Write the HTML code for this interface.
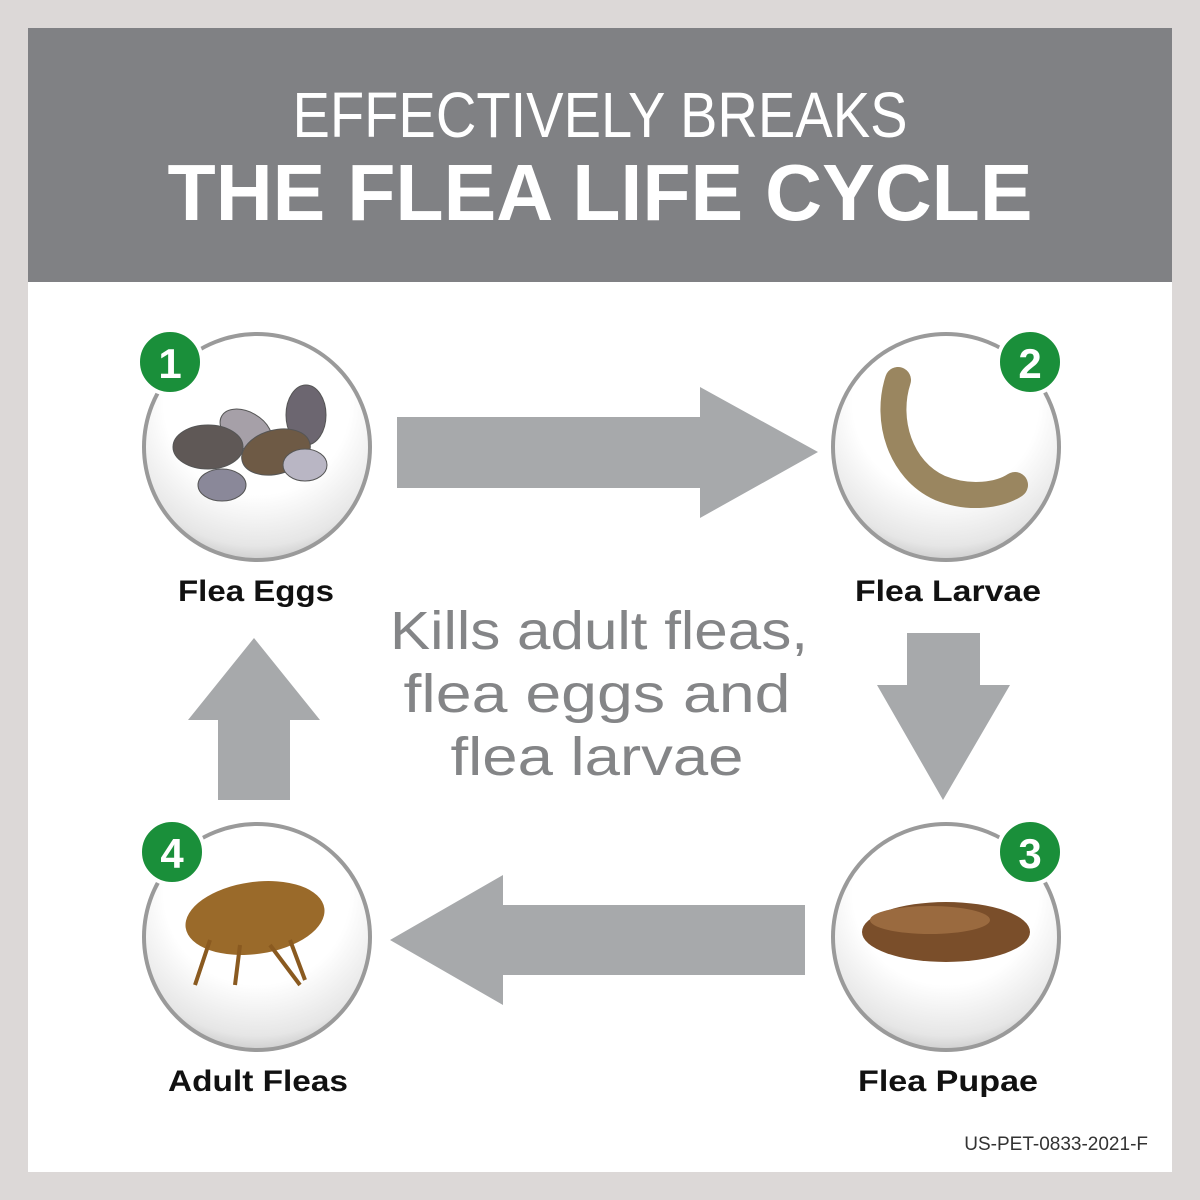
<!DOCTYPE html>
<html><head><meta charset="utf-8"><style>
html,body{margin:0;padding:0;width:1200px;height:1200px;overflow:hidden;background:#dcd8d7}
</style></head><body>
<svg width="1200" height="1200" viewBox="0 0 1200 1200" xmlns="http://www.w3.org/2000/svg" font-family="Liberation Sans, sans-serif">
<defs>
<radialGradient id="cg" cx="50%" cy="30%" r="75%">
<stop offset="0.55" stop-color="#ffffff"/><stop offset="0.85" stop-color="#e6e6e6"/><stop offset="1" stop-color="#bdbdbd"/>
</radialGradient>
</defs>
<rect x="0" y="0" width="1200" height="1200" fill="#dcd8d7"/>
<rect x="28" y="28" width="1144" height="1144" fill="#ffffff"/>
<rect x="28" y="28" width="1144" height="254" fill="#808184"/>
<text x="600" y="137" text-anchor="middle" fill="#fff" font-size="64" textLength="615" lengthAdjust="spacingAndGlyphs">EFFECTIVELY BREAKS</text>
<text x="600" y="220" text-anchor="middle" fill="#fff" font-size="80" font-weight="bold" textLength="865" lengthAdjust="spacingAndGlyphs">THE FLEA LIFE CYCLE</text>

<g fill="#a7a9ab">
<polygon points="397,417 700,417 700,387 818,452 700,518 700,488 397,488"/>
<polygon points="907,633 980,633 980,685 1010,685 943,800 877,685 907,685"/>
<polygon points="805,905 503,905 503,875 390,940 503,1005 503,975 805,975"/>
<polygon points="218,800 290,800 290,720 320,720 254,638 188,720 218,720"/>
</g>

<g stroke="#9a9a9a" stroke-width="4" fill="url(#cg)">
<circle cx="257" cy="447" r="113"/>
<circle cx="946" cy="447" r="113"/>
<circle cx="946" cy="937" r="113"/>
<circle cx="257" cy="937" r="113"/>
</g>

<g stroke="#555" stroke-width="1">
<ellipse cx="246" cy="430" rx="28" ry="18" fill="#a6a0a8" transform="rotate(30 246 430)"/>
<ellipse cx="306" cy="415" rx="20" ry="30" fill="#6c6670"/>
<ellipse cx="208" cy="447" rx="35" ry="22" fill="#5f5856"/>
<ellipse cx="276" cy="452" rx="35" ry="22" fill="#6e5a45" transform="rotate(-15 276 452)"/>
<ellipse cx="222" cy="485" rx="24" ry="16" fill="#8a8899"/>
<ellipse cx="305" cy="465" rx="22" ry="16" fill="#b9b6c4"/>
</g>
<path d="M898,380 C885,420 900,470 940,488 C970,500 1000,495 1015,485" stroke="#9a8660" stroke-width="26" fill="none" stroke-linecap="round"/>
<ellipse cx="946" cy="932" rx="84" ry="30" fill="#7a4e2a"/>
<ellipse cx="930" cy="920" rx="60" ry="14" fill="#9a6a3f"/>
<ellipse cx="255" cy="918" rx="70" ry="36" fill="#9a6a2a" transform="rotate(-8 255 918)"/>
<g stroke="#8a5a20" stroke-width="4" fill="none">
<path d="M210,940 L195,985"/><path d="M240,945 L235,985"/><path d="M270,945 L300,985"/><path d="M290,940 L305,980"/>
</g>

<g>
<circle cx="170" cy="362" r="32" fill="#1a8f3a" stroke="#fff" stroke-width="4"/>
<text x="170" y="378" text-anchor="middle" fill="#fff" font-size="42" font-weight="bold">1</text>
<circle cx="1030" cy="362" r="32" fill="#1a8f3a" stroke="#fff" stroke-width="4"/>
<text x="1030" y="378" text-anchor="middle" fill="#fff" font-size="42" font-weight="bold">2</text>
<circle cx="1030" cy="852" r="32" fill="#1a8f3a" stroke="#fff" stroke-width="4"/>
<text x="1030" y="868" text-anchor="middle" fill="#fff" font-size="42" font-weight="bold">3</text>
<circle cx="172" cy="852" r="32" fill="#1a8f3a" stroke="#fff" stroke-width="4"/>
<text x="172" y="868" text-anchor="middle" fill="#fff" font-size="42" font-weight="bold">4</text>
</g>

<g font-size="30" font-weight="bold" fill="#111" text-anchor="middle" lengthAdjust="spacingAndGlyphs">
<text x="256" y="601" textLength="156" lengthAdjust="spacingAndGlyphs">Flea Eggs</text>
<text x="948" y="601" textLength="186" lengthAdjust="spacingAndGlyphs">Flea Larvae</text>
<text x="948" y="1091" textLength="180" lengthAdjust="spacingAndGlyphs">Flea Pupae</text>
<text x="258" y="1091" textLength="180" lengthAdjust="spacingAndGlyphs">Adult Fleas</text>
</g>
<g font-size="54" fill="#848587" text-anchor="middle">
<text x="599" y="649" textLength="418" lengthAdjust="spacingAndGlyphs">Kills adult fleas,</text>
<text x="597" y="712" textLength="387" lengthAdjust="spacingAndGlyphs">flea eggs and</text>
<text x="597" y="775" textLength="293" lengthAdjust="spacingAndGlyphs">flea larvae</text>
</g>
<text x="1148" y="1150" text-anchor="end" font-size="19" fill="#333">US-PET-0833-2021-F</text>
</svg>
</body></html>
